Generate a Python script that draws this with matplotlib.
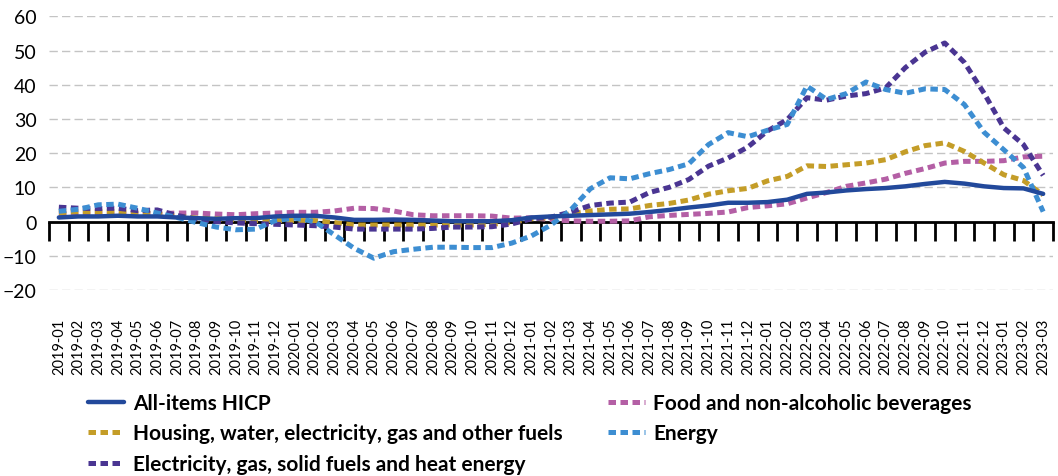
import numpy as np
import matplotlib
matplotlib.use("Agg")
import matplotlib.pyplot as plt

plt.rcParams.update({
    "font.family": "Lato",
    "figure.dpi": 100,
})

months = [f"{y}-{m:02d}" for y in range(2019, 2024) for m in range(1, 13)][:51]

hicp = [1.2, 1.5, 1.5, 1.7, 1.5, 1.5, 1.2, 1.0, 0.8, 1.0,
        1.0, 1.5, 1.7, 1.7, 1.2, 0.5, 0.5, 0.6, 0.5, 0.3,
        0.1, 0.1, 0.1, 0.4, 1.2, 1.5, 1.7, 1.9, 2.1, 2.3,
        2.8, 3.4, 4.1, 4.7, 5.5, 5.5, 5.7, 6.4, 8.1, 8.5,
        9.1, 9.5, 9.8, 10.3, 11.0, 11.6, 11.1, 10.3, 9.8, 9.7,
        8.1]
food = [2.3, 2.3, 2.3, 2.3, 2.3, 2.3, 2.5, 2.5, 2.2, 2.0,
        2.3, 2.5, 2.7, 2.7, 3.1, 3.9, 3.8, 3.1, 2.0, 1.7,
        1.7, 1.7, 1.6, 1.0, 1.1, 0.6, 0.2, 0.1, 0.1, 0.2,
        1.4, 1.8, 2.1, 2.4, 2.8, 4.1, 4.6, 5.2, 6.9, 8.5,
        10.3, 11.3, 12.4, 14.1, 15.5, 17.1, 17.6, 17.6, 17.8, 18.9,
        19.1]
housing = [2.6, 2.9, 2.9, 2.9, 2.5, 2.3, 1.6, 1.0, 0.8, 0.5,
           0.3, 0.3, 0.3, 0.3, -0.3, -1.0, -1.0, -1.0, -1.0, -1.0,
           -1.0, -1.0, -0.8, -0.3, 0.8, 1.2, 2.3, 3.1, 3.6, 3.7,
           4.7, 5.3, 6.3, 8.0, 9.0, 9.7, 11.9, 13.2, 16.3, 16.1,
           16.6, 17.1, 18.1, 20.4, 22.2, 23.0, 20.5, 17.1, 13.7, 12.0,
           7.8]
energy = [3.0, 3.6, 4.9, 5.1, 3.9, 2.5, 1.2, -0.3, -1.6, -2.4,
          -2.2, 0.3, 1.0, 0.0, -3.9, -7.8, -10.7, -8.8, -8.1, -7.5,
          -7.5, -7.6, -7.6, -6.3, -4.2, -1.0, 3.4, 9.6, 12.8, 12.5,
          14.0, 15.2, 16.9, 22.5, 26.0, 24.8, 26.7, 28.4, 39.6, 35.7,
          37.4, 40.8, 38.6, 37.5, 38.8, 38.6, 34.2, 26.1, 21.0, 15.8,
          2.9]
electricity = [4.2, 3.9, 3.8, 3.9, 3.2, 3.4, 1.8, 0.7, 0.0, -0.4,
               -0.6, -0.8, -1.0, -1.2, -1.6, -2.2, -2.2, -2.2, -2.2, -2.0,
               -1.6, -1.6, -1.5, -0.7, 0.8, 1.3, 2.8, 4.7, 5.4, 5.7,
               8.5, 10.0, 12.3, 16.2, 18.6, 21.8, 26.5, 29.8, 36.2, 35.5,
               36.7, 37.4, 39.1, 45.0, 49.5, 52.2, 46.5, 37.5, 27.4, 22.5,
               13.5]

C_HICP = "#22499b"
C_FOOD = "#b45fa5"
C_HOUS = "#c49d28"
C_ENER = "#3d8ed2"
C_ELEC = "#4a3592"

x = np.arange(len(months))

fig = plt.figure(figsize=(10.58, 4.77))
ax = fig.add_axes([49 / 1058, 1 - 291 / 477, (1053 - 49) / 1058, (291 - 17.3) / 477])

# category axis drawn through zero with boundary tick marks (kept under the lines)
sec = ax.secondary_xaxis(0.25)
sec.set_xticks(np.arange(-0.5, len(months), 1))
sec.set_xticklabels([])
sec.tick_params(length=14, width=2, direction="out", color="black")
sec.spines["bottom"].set_linewidth(2)
sec.spines["bottom"].set_color("black")
sec.set_zorder(1)

dash = dict(lw=3.6, dashes=(1.5, 0.9), dash_capstyle="butt", solid_capstyle="butt")
l_food, = ax.plot(x, food, color=C_FOOD, label="Food and non-alcoholic beverages", zorder=3, **dash)
l_hous, = ax.plot(x, housing, color=C_HOUS,
                  label="Housing, water, electricity, gas and other fuels", zorder=3, **dash)
l_elec, = ax.plot(x, electricity, color=C_ELEC,
                  label="Electricity, gas, solid fuels and heat energy", zorder=3, **dash)
l_ener, = ax.plot(x, energy, color=C_ENER, label="Energy", zorder=3, **dash)
l_hicp, = ax.plot(x, hicp, color=C_HICP, lw=3.2, solid_capstyle="round",
                  label="All-items HICP", zorder=4)

ax.set_xlim(-0.5, len(months) - 0.5)
ax.set_ylim(-20, 60)
ax.set_yticks(range(-20, 61, 10))
ax.yaxis.grid(True, color="#c4c4c4", ls=(0, (6, 3)), lw=1)
ax.set_axisbelow(True)
for s in ax.spines.values():
    s.set_visible(False)
ax.tick_params(axis="y", length=0, labelsize=14, pad=9)
ax.set_xticks(x)
ax.set_xticklabels(months, rotation=90, fontsize=10.5)
ax.tick_params(axis="x", length=0, pad=20)

fig.legend(handles=[l_hicp, l_hous, l_elec, l_food, l_ener],
           loc="upper left", bbox_to_anchor=(88 / 1058, 1 - 394 / 477),
           ncol=2, frameon=False, prop={"family": "Lato", "weight": "bold", "size": 15},
           handlelength=1.75, handletextpad=0.4, columnspacing=2.2,
           labelspacing=0.5, borderaxespad=0, borderpad=0)

fig.savefig("out.png", dpi=100)
